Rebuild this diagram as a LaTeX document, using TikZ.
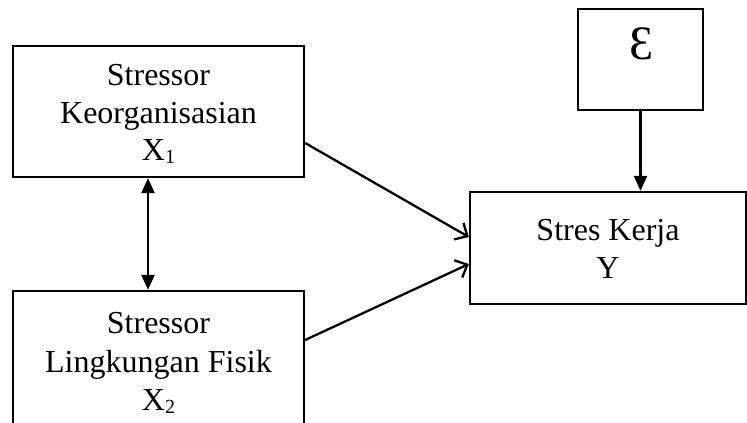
\documentclass[tikz,border=0pt]{standalone}
\usepackage{fontspec}
\setmainfont{Liberation Serif}
\usetikzlibrary{arrows.meta,calc}
\tikzset{
  box/.style={draw, line width=2.3pt, inner sep=0pt},
  lbl/.style={anchor=base, inner sep=0pt, font=\fontsize{32}{37}\selectfont},
  conn/.style={line width=2.3pt},
  solidtip/.style={-{Triangle[length=15pt,width=13pt]}},
  bothtip/.style={{Triangle[length=15pt,width=13pt]}-{Triangle[length=15pt,width=13pt]}},
  opentip/.style={-{Straight Barb[length=10pt,width=19pt,line width=2.3pt]}}
}
\newcommand{\sbx}[1]{\raisebox{-0.12em}{\fontsize{20}{20}\selectfont #1}}
\begin{document}
\begin{tikzpicture}[x=1pt,y=-1pt]
\useasboundingbox (0,0) rectangle (747,423);
% boxes
\node[box, minimum width=291pt, minimum height=131pt] (x1) at (158.5,111.5) {};
\node[box, minimum width=291pt, minimum height=139pt] (x2) at (158.5,360.5) {};
\node[box, minimum width=276pt, minimum height=112pt] (y) at (608,248) {};
\node[box, minimum width=125pt, minimum height=101pt] (e) at (640.5,59.5) {};
% texts
\node[lbl] (x1a) at (158.5,85) {Stressor};
\node[lbl] (x1b) at (158.5,123) {Keorganisasian};
\node[lbl] (x1c) at (158.5,160) {X\sbx{1}};
\node[lbl] (x2a) at (158.5,333) {Stressor};
\node[lbl] (x2b) at (158.5,372) {Lingkungan Fisik};
\node[lbl] (x2c) at (158.5,410) {X\sbx{2}};
\node[lbl] (ya) at (608,240) {Stres Kerja};
\node[lbl] (yb) at (608,278) {Y};
\node[anchor=base, inner sep=0pt, font=\fontsize{48}{48}\selectfont] (eps) at (642,59) {Ɛ};
% connectors
\draw[conn, solidtip] (e.south) -- (e.south |- y.north);
\draw[conn, bothtip] ([xshift=-10.5pt]x1.south) -- ([xshift=-10.5pt]x2.north);
\draw[conn, opentip] ([yshift=-31.5pt]x1.east) -- ([yshift=11pt]y.west);
\draw[conn, opentip] ([yshift=20.5pt]x2.east) -- ([yshift=-16pt]y.west);
\end{tikzpicture}
\end{document}
